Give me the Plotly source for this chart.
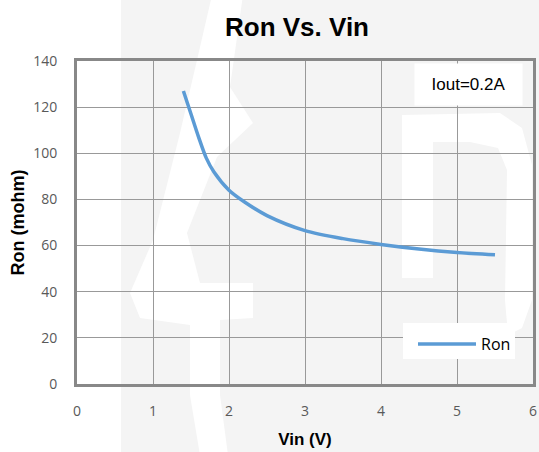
import plotly.graph_objects as go

# ---- data ----
vin = [1.4, 1.5, 1.6, 1.7, 1.8, 2.0, 2.2, 2.5, 3.0, 3.5, 4.0, 4.5, 5.0, 5.5]
ron = [127, 117, 107, 98, 92, 84, 79, 73, 66.5, 63, 60.5, 58.5, 57, 56]
x_ticks = [0, 1, 2, 3, 4, 5, 6]
y_ticks = [0, 20, 40, 60, 80, 100, 120, 140]

W, H = 539, 452
L, R, T, B = 77, 6, 61, 68
PW, PH = W - L - R, H - T - B


def px(x, y):
    """pixel -> paper coordinates (decoration only)"""
    return (x - L) / PW, (H - B - y) / PH


def path(pts):
    s = ""
    for i, (x, y) in enumerate(pts):
        u, v = px(x, y)
        s += ("M" if i == 0 else "L") + f"{u:.4f},{v:.4f} "
    return s + "Z"


# watermark decoration
wm_gray = [(121, -5), (545, -5), (545, 460), (121, 460)]
wm_band = [(212, -5), (243, -5), (230, 87), (253, 123), (217, 157), (187, 233),
           (200, 283), (253, 283), (253, 318), (220, 320), (220, 395), (228, 455),
           (200, 455), (190, 395), (190, 325), (140, 318), (130, 293), (153, 240),
           (180, 133), (197, 60)]
wm_n_outer = [(402, 115), (500, 113), (522, 128), (532, 165), (532, 300), (522, 328),
              (508, 335), (505, 300), (507, 170), (498, 148), (470, 142), (433, 142),
              (433, 278), (402, 278)]

shapes = [
    dict(type="path", xref="paper", yref="paper", path=path(wm_gray),
         fillcolor="#f4f4f4", line=dict(width=0), layer="below"),
    dict(type="path", xref="paper", yref="paper", path=path(wm_band),
         fillcolor="#ffffff", line=dict(width=0), layer="below"),
    dict(type="path", xref="paper", yref="paper", path=path(wm_n_outer),
         fillcolor="#ffffff", line=dict(width=0), layer="below"),
]
# white legend box
bx0, by0 = px(403, 359)
bx1, by1 = px(515, 323)
shapes.append(dict(type="rect", xref="paper", yref="paper", x0=bx0, y0=by0, x1=bx1, y1=by1,
                   fillcolor="#ffffff", line=dict(width=0), layer="above"))

fig = go.Figure()
fig.add_trace(go.Scatter(
    x=vin, y=ron, mode="lines", name="Ron",
    line=dict(color="#5b9bd5", width=3.5, shape="spline", smoothing=0.8),
))

lx, ly = px(413, 327)
ax, ay = px(468, 84)

fig.update_layout(
    width=W, height=H,
    margin=dict(l=L, r=R, t=T, b=B, autoexpand=False),
    paper_bgcolor="#ffffff",
    plot_bgcolor="rgba(0,0,0,0)",
    shapes=shapes,
    title=dict(text="<b>Ron Vs. Vin</b>", x=297 / W, xanchor="center",
               y=1 - 27 / H, yanchor="middle", xref="container", yref="container",
               font=dict(family="Liberation Sans", size=26, color="#000000")),
    xaxis=dict(range=[0, 6], tickvals=x_ticks, ticktext=[str(v) for v in x_ticks],
               showgrid=True, gridcolor="#999999", gridwidth=1, zeroline=False,
               showline=True, linecolor="#888888", linewidth=3, mirror=True,
               ticks="", ticklabelstandoff=12, automargin=False,
               tickfont=dict(family="Open Sans", size=14, color="#595959"),
               title=dict(text="<b>Vin (V)</b>", standoff=15,
                          font=dict(family="Liberation Sans", size=17, color="#000000"))),
    yaxis=dict(range=[0, 140], tickvals=y_ticks, ticktext=[str(v) for v in y_ticks],
               showgrid=True, gridcolor="#999999", gridwidth=1, zeroline=False,
               showline=True, linecolor="#888888", linewidth=3, mirror=True,
               ticks="", ticklabelstandoff=14, automargin=False,
               tickfont=dict(family="Open Sans", size=14, color="#595959"),
               title=dict(text="<b>Ron (mohm)</b>", standoff=4,
                          font=dict(family="Liberation Sans", size=18, color="#000000"))),
    showlegend=True,
    legend=dict(x=lx, y=ly, xanchor="left", yanchor="top", bgcolor="rgba(0,0,0,0)",
                borderwidth=0, itemwidth=58,
                font=dict(family="Open Sans", size=16, color="#000000")),
    annotations=[dict(text="Iout=0.2A", xref="paper", yref="paper", x=ax, y=ay,
                      xanchor="center", yanchor="middle", showarrow=False,
                      bgcolor="#ffffff", width=103, height=37, borderpad=2,
                      font=dict(family="Liberation Sans", size=17, color="#000000"))],
)

fig.write_html("out.html", config={"displayModeBar": False},
               post_script="document.body.style.margin='0px';document.body.style.overflow='hidden';")
